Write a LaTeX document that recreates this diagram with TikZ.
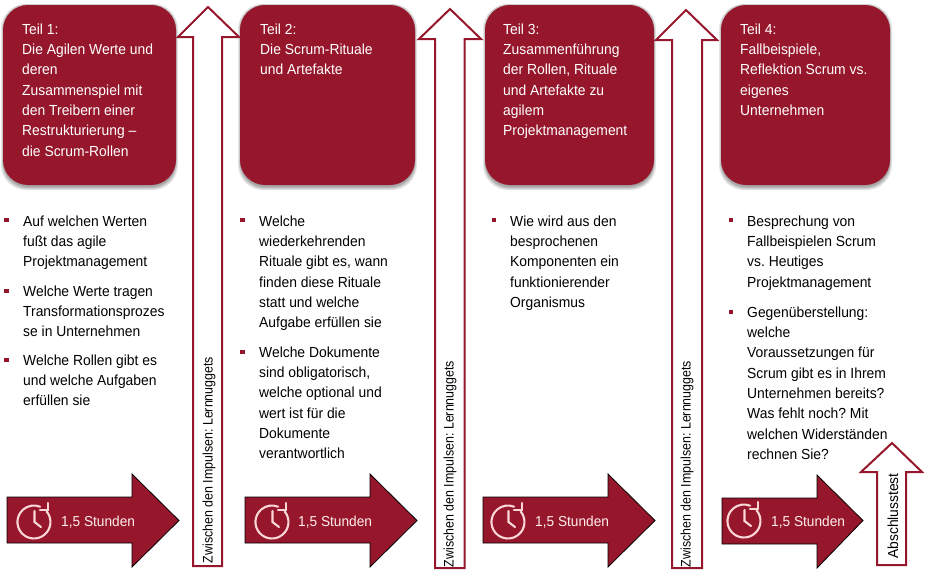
\documentclass[tikz,border=0pt]{standalone}
\usepackage{fontspec}
\setmainfont{Liberation Sans}
\newfontfamily\mainsq[FakeStretch=0.95]{Liberation Sans}
\newfontfamily\vertsq[FakeStretch=0.9]{Liberation Sans}
\definecolor{wine}{RGB}{150,23,44}
\definecolor{clockc}{RGB}{250,215,215}
\definecolor{durc}{RGB}{255,238,238}
\tikzset{x=1pt,y=-1pt,
  headbox/.style={fill=wine,rounded corners=25pt,draw=none},
  shadowbox/.style={fill=black,opacity=0.10,rounded corners=25pt,draw=none},
  headtext/.style={text=white,align=left,anchor=north west,font=\mainsq\fontsize{14.6}{20.3}\selectfont,inner sep=0pt},
  bodytext/.style={text=black,align=left,anchor=north west,font=\mainsq\fontsize{14.6}{20.3}\selectfont,inner sep=0pt},
  bul/.style={fill=wine,minimum size=4.8pt,inner sep=0pt,draw=none},
  uparrow/.style={draw=wine,line width=2pt,fill=white,miter limit=10},
  rightarrow/.style={fill=wine,draw=black,line width=0.8pt},
  vlabel/.style={rotate=90,font=\vertsq\fontsize{13.8}{15}\selectfont,inner sep=0pt,text=black},
  ablabel/.style={rotate=90,font=\mainsq\fontsize{14.6}{16}\selectfont,inner sep=0pt,text=black},
  durlabel/.style={text=durc,font=\mainsq\fontsize{14.4}{17}\selectfont,inner sep=0pt,anchor=west},
  clockline/.style={draw=clockc,line width=2.1pt,line cap=round,line join=miter},
}
\begin{document}
\frenchspacing
\begin{tikzpicture}
\useasboundingbox (0,0) rectangle (926,574);
% head boxes
\foreach \a/\b in {3/176,240/415,485/654,721/890}{
  \fill[shadowbox] (\a-2,4) rectangle (\b+2,190);
  \fill[shadowbox] (\a-1,4) rectangle (\b+1,189);
  \fill[shadowbox] (\a-0.5,5) rectangle (\b+0.5,188);
  \fill[shadowbox] (\a,5) rectangle (\b,187);
  \fill[headbox] (\a,5) rectangle (\b,185);
}
\node[headtext] (h1) at (22,23.5) {Teil 1:\\Die Agilen Werte und\\deren\\Zusammenspiel mit\\den Treibern einer\\Restrukturierung –\\die Scrum-Rollen};
\node[headtext] (h2) at (260,23.5) {Teil 2:\\Die Scrum-Rituale\\und Artefakte};
\node[headtext] (h3) at (503,23.5) {Teil 3:\\Zusammenführung\\der Rollen, Rituale\\und Artefakte zu\\agilem\\Projektmanagement};
\node[headtext] (h4) at (740,23.5) {Teil 4:\\Fallbeispiele,\\Reflektion Scrum vs.\\eigenes\\Unternehmen};
% up arrows
\draw[uparrow] (208,7) -- (239,37) -- (222,37) -- (222,566) -- (193,566) -- (193,37) -- (178,37) -- cycle;
\draw[uparrow] (450,9) -- (481,39) -- (464.5,39) -- (464.5,568) -- (435,568) -- (435,39) -- (419,39) -- cycle;
\draw[uparrow] (686,10) -- (717,40) -- (702,40) -- (702,568) -- (672,568) -- (672,40) -- (656,40) -- cycle;
\node[vlabel] (u1) at (209,460) {Zwischen den Impulsen: Lernnuggets};
\node[vlabel] (u2) at (450,464) {Zwischen den Impulsen: Lernnuggets};
\node[vlabel] (u3) at (687,464) {Zwischen den Impulsen: Lernnuggets};
\draw[uparrow] (892,443) -- (922,472) -- (906,472) -- (906,565) -- (877,565) -- (877,472) -- (861,472) -- cycle;
\node[ablabel] (u4) at (893,516) {Abschlusstest};
% right arrows
\foreach \a/\e/\h/\d in {7/179/132/0,245/417/370/0,483/655/608/0,722/863/817/1}{
  \draw[rightarrow] (\a,497+\d) -- (\h,497+\d) -- (\h,474+\d) -- (\e,520.5) -- (\h,567+\d) -- (\h,543+\d) -- (\a,543+\d) -- cycle;
}
\foreach \c/\t/\cy in {34/61/522,272/298/522,508/535/522,744/771/521}{
  \begin{scope}[shift={(\c,\cy)}]
    \draw[clockline] (12.6,-10.6) arc[start angle=40,end angle=-292,radius=16.5pt];
    \draw[clockline] (6,-12) -- (13.7,-12) -- (13.7,-19);
    \draw[clockline] (0.5,-11) -- (0.5,0) -- (7,5);
  \end{scope}
  \node[durlabel] at (\t,522) {1,5 Stunden};
}
% bodies
\node[bul] at (6.5,220) {};
\node[bodytext] (b11) at (23,215.5) {Auf welchen Werten\\fußt das agile\\Projektmanagement};
\node[bul] at (6.5,291) {};
\node[bodytext] (b12) at (23,285.5) {Welche Werte tragen\\Transformationsprozes\\se in Unternehmen};
\node[bul] at (6.5,360) {};
\node[bodytext] (b13) at (23,354.5) {Welche Rollen gibt es\\und welche Aufgaben\\erfüllen sie};
\node[bul] at (242.5,220) {};
\node[bodytext] (b21) at (259,215.5) {Welche\\wiederkehrenden\\Rituale gibt es, wann\\finden diese Rituale\\statt und welche\\Aufgabe erfüllen sie};
\node[bul] at (242.5,352) {};
\node[bodytext] (b22) at (259,346.5) {Welche Dokumente\\sind obligatorisch,\\welche optional und\\wert ist für die\\Dokumente\\verantwortlich};
\node[bul] at (494,220) {};
\node[bodytext] (b31) at (510,215.5) {Wie wird aus den\\besprochenen\\Komponenten ein\\funktionierender\\Organismus};
\node[bul] at (731,220) {};
\node[bodytext] (b41) at (747,215.5) {Besprechung von\\Fallbeispielen Scrum\\vs. Heutiges\\Projektmanagement};
\node[bul] at (731,312) {};
\node[bodytext] (b42) at (747,306.5) {Gegenüberstellung:\\welche\\Voraussetzungen für\\Scrum gibt es in Ihrem\\Unternehmen bereits?\\Was fehlt noch? Mit\\welchen Widerständen\\rechnen Sie?};
\end{tikzpicture}
\end{document}
